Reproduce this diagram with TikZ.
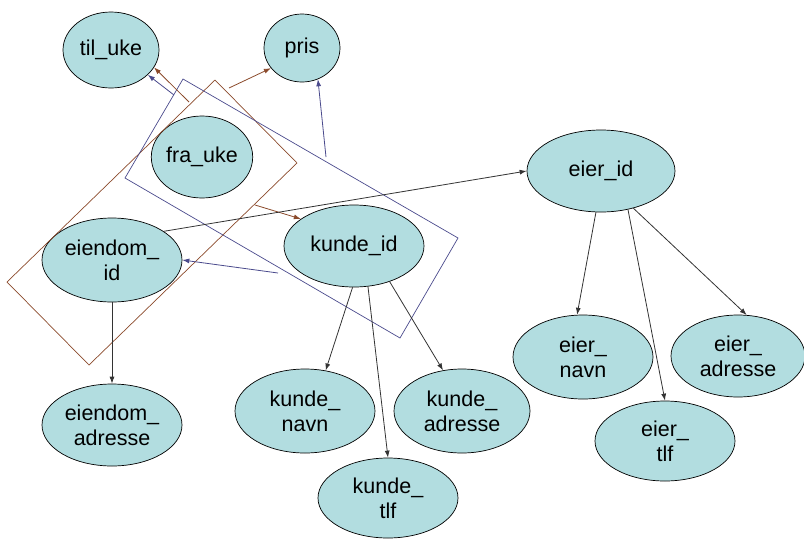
\documentclass[tikz,border=0pt]{standalone}
\usepackage{fontspec}
\setmainfont{Liberation Sans}
\usetikzlibrary{shapes.geometric,arrows.meta}
\definecolor{efill}{HTML}{B2DDE0}
\definecolor{bluel}{HTML}{4A4A8C}
\definecolor{brownl}{HTML}{8B4A2B}
\definecolor{darkl}{HTML}{333333}
\begin{document}
\begin{tikzpicture}[x=1pt,y=-1pt,
  attr/.style={ellipse,draw=black,line width=0.7pt,fill=efill,inner sep=0pt,
    font=\fontsize{21.5}{25}\selectfont,align=center},
  conn/.style={draw=darkl,line width=0.8pt,-{Latex[length=7pt,width=5pt]}},
  bconn/.style={draw=bluel,line width=0.8pt,-{Latex[length=7pt,width=5pt]}},
  rconn/.style={draw=brownl,line width=0.8pt,-{Latex[length=7pt,width=5pt]}},
  brect/.style={draw=bluel,line width=0.7pt},
  rrect/.style={draw=brownl,line width=0.7pt}]
\useasboundingbox (0,0) rectangle (804,539);
% nodes
\node[attr,minimum width=96pt,minimum height=76pt] (tiluke) at (111,50) {til\_uke};
\node[attr,minimum width=76pt,minimum height=68pt] (pris) at (302,48) {pris};
\node[attr,minimum width=98pt,minimum height=82pt] (frauke) at (202,157) {fra\_uke};
\node[attr,minimum width=140pt,minimum height=84pt] (eiendom) at (112,260) {eiendom\_\\id};
\node[attr,minimum width=140pt,minimum height=82pt] (kunde) at (354,246) {kunde\_id};
\node[attr,minimum width=148pt,minimum height=82pt] (eier) at (601,171) {eier\_id};
\node[attr,minimum width=140pt,minimum height=84pt] (eiernavn) at (583,357) {eier\_\\navn};
\node[attr,minimum width=134pt,minimum height=82pt] (eieradr) at (738,356) {eier\_\\adresse};
\node[attr,minimum width=140pt,minimum height=80pt] (eiertlf) at (665,441) {eier\_\\tlf};
\node[attr,minimum width=140pt,minimum height=84pt] (kundenavn) at (305,411) {kunde\_\\navn};
\node[attr,minimum width=136pt,minimum height=84pt] (kundeadr) at (462,411) {kunde\_\\adresse};
\node[attr,minimum width=140pt,minimum height=80pt] (kundetlf) at (388,498) {kunde\_\\tlf};
\node[attr,minimum width=140pt,minimum height=82pt] (eiendomadr) at (112,425) {eiendom\_\\adresse};
% grouping rectangles
\draw[rrect] (215,80) -- (297,163) -- (89,365) -- (7,282) -- cycle;
\draw[brect] (183,79) -- (458,238) -- (400,338) -- (125,178) -- cycle;
% free ends of coloured arrows
\coordinate (b1) at (174,95);
\coordinate (b2) at (326,157);
\coordinate (b3) at (278,273);
\coordinate (r1) at (189,102);
\coordinate (r2) at (229,88);
\coordinate (r3) at (255,205);
% coloured arrows
\draw[bconn] (b1) -- (tiluke.-34);
\draw[bconn] (b2) -- (pris.-63);
\draw[bconn] (b3) -- (eiendom.0);
\draw[rconn] (r1) -- (tiluke.-22);
\draw[rconn] (r2) -- (pris.213);
\draw[rconn] (r3) -- (kunde.153);
% black arrows
\draw[conn] (eiendom.29) -- (eier.180);
\draw[conn] (eiendom.270) -- (eiendomadr.90);
\draw[conn] (kunde.268) -- (kundenavn.63);
\draw[conn] (kunde.289) -- (kundetlf.90);
\draw[conn] (kunde.315) -- (kundeadr.115);
\draw[conn] (eier.263) -- (eiernavn.98);
\draw[conn] (eier.305) -- (eiertlf.90);
\draw[conn] (eier.311) -- (eieradr.78);
\end{tikzpicture}
\end{document}
